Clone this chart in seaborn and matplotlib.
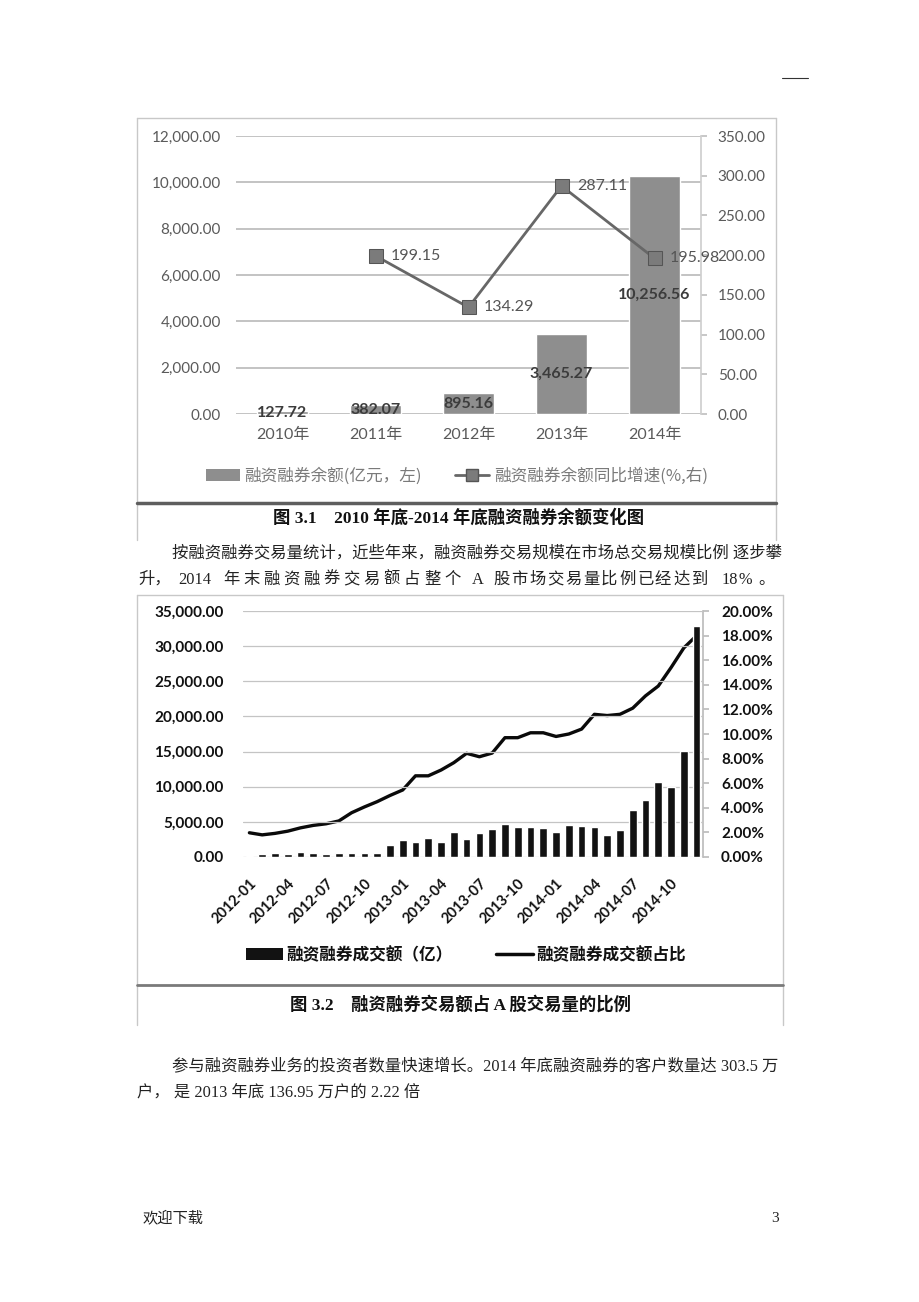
import numpy as np
import pandas as pd
import matplotlib
matplotlib.use("Agg")
import matplotlib.pyplot as plt
import seaborn as sns
from matplotlib.patches import Patch
from matplotlib.lines import Line2D
from matplotlib.ticker import FuncFormatter

# ---------------- data: chart 3.1 ----------------
years = ["2010年", "2011年", "2012年", "2013年", "2014年"]
balance = [127.72, 382.07, 895.16, 3465.27, 10256.56]
growth = [np.nan, 199.15, 134.29, 287.11, 195.98]
legend1 = ["融资融券余额(亿元，左)", "融资融券余额同比增速(%,右)"]
caption1 = "图 3.1    2010 年底-2014 年底融资融券余额变化图"

# ---------------- data: chart 3.2 ----------------
months = ["2012-01", "2012-02", "2012-03", "2012-04", "2012-05", "2012-06",
          "2012-07", "2012-08", "2012-09", "2012-10", "2012-11", "2012-12",
          "2013-01", "2013-02", "2013-03", "2013-04", "2013-05", "2013-06",
          "2013-07", "2013-08", "2013-09", "2013-10", "2013-11", "2013-12",
          "2014-01", "2014-02", "2014-03", "2014-04", "2014-05", "2014-06",
          "2014-07", "2014-08", "2014-09", "2014-10", "2014-11", "2014-12"]
volume = [200, 480, 500, 480, 680, 530, 480, 500, 640, 500, 500, 1650,
          2450, 2150, 2700, 2100, 3500, 2550, 3450, 3980, 4690, 4300, 4260, 4160,
          3550, 4590, 4400, 4210, 3080, 3830, 6630, 8090, 10650, 10030, 15050, 32900]
ratio = [1.97, 1.80, 1.92, 2.10, 2.37, 2.57, 2.70, 2.93, 3.60, 4.07, 4.50, 5.00,
         5.45, 6.60, 6.60, 7.07, 7.67, 8.43, 8.15, 8.45, 9.70, 9.70, 10.10, 10.10,
         9.80, 10.00, 10.40, 11.60, 11.50, 11.60, 12.10, 13.10, 13.90, 15.40, 17.00, 18.00]
month_ticks = ["2012-01", "2012-04", "2012-07", "2012-10", "2013-01", "2013-04",
               "2013-07", "2013-10", "2014-01", "2014-04", "2014-07", "2014-10"]
legend2 = ["融资融券成交额（亿）", "融资融券成交额占比"]
caption2 = "图 3.2    融资融券交易额占 A 股交易量的比例"

# ---------------- page text ----------------
para1_line1 = "按融资融券交易量统计，近些年来，融资融券交易规模在市场总交易规模比例 逐步攀"
para2_line1 = "参与融资融券业务的投资者数量快速增长。2014 年底融资融券的客户数量达 303.5 万"
para2_line2 = "户， 是 2013 年底 136.95 万户的 2.22 倍"
footer_left = "欢迎下载"
footer_right = "3"

sns.set_theme(style="white")
plt.rcParams["font.family"] = ["Lato", "Noto Sans CJK SC", "DejaVu Sans"]
plt.rcParams["axes.unicode_minus"] = False

W, H = 920, 1302
fig = plt.figure(figsize=(W / 100, H / 100), dpi=100)
fig.patch.set_facecolor("white")


def fx(x):
    return x / W


def fy(y):
    return 1 - y / H


def rect(x0, y0, x1, y1):
    return [fx(x0), fy(y1), (x1 - x0) / W, (y1 - y0) / H]


def hline(x0, x1, y, **kw):
    fig.add_artist(Line2D([fx(x0), fx(x1)], [fy(y), fy(y)], transform=fig.transFigure, **kw))


def vline(x, y0, y1, **kw):
    fig.add_artist(Line2D([fx(x), fx(x)], [fy(y0), fy(y1)], transform=fig.transFigure, **kw))


SERIF = ["Liberation Serif", "Noto Sans CJK SC"]
CJK = ["Noto Sans CJK SC", "DejaVu Sans"]

# ================= chart 3.1 =================
df1 = pd.DataFrame({"year": years, "balance": balance})
ax1 = fig.add_axes(rect(236, 136, 701, 414))
sns.barplot(data=df1, x="year", y="balance", ax=ax1, color="#8e8e8e",
            width=0.55, saturation=1)
ax1.set_xlim(-0.5, len(years) - 0.5)
ax1.set_ylim(0, 12000)
ax1.set_yticks(np.arange(0, 12001, 2000))
ax1.yaxis.set_major_formatter(FuncFormatter(lambda v, p: f"{v:,.2f}"))
ax1.grid(axis="y", color="#c3c3c3", lw=1.4)
ax1.set_axisbelow(True)
for s in ax1.spines.values():
    s.set_visible(False)
ax1.tick_params(axis="y", length=0, pad=11, labelsize=11, labelcolor="#5a5a5a")
ax1.tick_params(axis="x", length=0, pad=10, labelsize=11.5, labelcolor="#5a5a5a")
ax1.set_xlabel("")
ax1.set_ylabel("")
for i, v in enumerate(balance):
    ax1.text(i, v / 2, f"{v:,.2f}", ha="center", va="center", fontsize=11.5,
             fontweight="bold", color="#3c3c3c", zorder=5)

ax2 = fig.add_axes(rect(236, 136, 701, 414), facecolor="none")
pos1 = np.arange(len(years))
sns.lineplot(x=pos1, y=growth, ax=ax2, color="#676767", lw=2, marker="s",
             markersize=10, markerfacecolor="#7b7b7b", markeredgecolor="#555555",
             errorbar=None)
ax2.set_xlim(-0.5, len(years) - 0.5)
ax2.set_ylim(0, 350)
ax2.yaxis.tick_right()
ax2.set_yticks(np.arange(0, 351, 50))
ax2.yaxis.set_major_formatter(FuncFormatter(lambda v, p: f"{v:.2f}"))
ax2.xaxis.set_visible(False)
for k, s in ax2.spines.items():
    s.set_visible(k == "right")
ax2.spines["right"].set_color("#cfcfcf")
ax2.tick_params(axis="y", length=4, color="#c0c0c0", pad=8, labelsize=11,
                labelcolor="#5a5a5a")
ax2.set_ylabel("")
for i, g in enumerate(growth):
    if not np.isnan(g):
        ax2.annotate(f"{g:.2f}", (i, g), xytext=(11, 0), textcoords="offset points",
                     va="center", ha="left", fontsize=11.5, color="#555555")

fig.legend(handles=[Patch(facecolor="#8e8e8e", edgecolor="none"),
                    Line2D([], [], color="#676767", lw=2, marker="s", markersize=9,
                           markerfacecolor="#7b7b7b", markeredgecolor="#555555")],
           labels=legend1, loc="center", bbox_to_anchor=(fx(457), fy(476)), ncol=2,
           frameon=False, prop={"family": CJK, "size": 12}, labelcolor="#7a7a7a",
           handlelength=2.0, handleheight=0.8, handletextpad=0.3, columnspacing=2.0)

# frame of figure 3.1
hline(137, 776, 118, color="#c8c8c8", lw=1)
vline(137, 118, 540, color="#c8c8c8", lw=1)
vline(776, 118, 540, color="#c8c8c8", lw=1)
hline(137, 776, 503, color="#5e5e5e", lw=2.5)
fig.text(fx(459), fy(518), caption1, ha="center", va="center", fontsize=12.5,
         fontweight="bold", family=SERIF, color="#111111")

# ================= chart 3.2 =================
df2 = pd.DataFrame({"month": months, "volume": volume})
ax3 = fig.add_axes(rect(243, 611, 703, 857))
sns.barplot(data=df2, x="month", y="volume", ax=ax3, color="#121212",
            width=0.6, saturation=1)
ax3.set_xlim(-0.5, len(months) - 0.5)
ax3.set_ylim(0, 35000)
ax3.set_yticks(np.arange(0, 35001, 5000))
ax3.yaxis.set_major_formatter(FuncFormatter(lambda v, p: f"{v:,.2f}"))
ax3.grid(axis="y", color="#c4c4c4", lw=0.9)
ax3.set_axisbelow(True)
for s in ax3.spines.values():
    s.set_visible(False)
tick_pos = [months.index(m) for m in month_ticks]
ax3.set_xticks(tick_pos)
ax3.set_xticklabels(month_ticks, rotation=45, ha="right", rotation_mode="anchor",
                    fontweight="bold", fontsize=10.5, color="#111111")
ax3.tick_params(axis="x", length=0, pad=14)
ax3.tick_params(axis="y", length=0, pad=14, labelsize=11, labelcolor="#111111")
for lab in ax3.get_yticklabels():
    lab.set_fontweight("bold")
ax3.set_xlabel("")
ax3.set_ylabel("")

ax4 = fig.add_axes(rect(243, 611, 703, 857), facecolor="none")
sns.lineplot(x=np.arange(len(months)), y=ratio, ax=ax4, color="#0a0a0a", lw=2.4,
             errorbar=None)
ax4.set_xlim(-0.5, len(months) - 0.5)
ax4.set_ylim(0, 20)
ax4.yaxis.tick_right()
ax4.set_yticks(np.arange(0, 20.01, 2))
ax4.yaxis.set_major_formatter(FuncFormatter(lambda v, p: f"{v:.2f}%"))
ax4.xaxis.set_visible(False)
for k, s in ax4.spines.items():
    s.set_visible(k == "right")
ax4.spines["right"].set_color("#bdbdbd")
ax4.tick_params(axis="y", length=4, color="#bdbdbd", pad=9, labelsize=11,
                labelcolor="#111111")
for lab in ax4.get_yticklabels():
    lab.set_fontweight("bold")
ax4.set_ylabel("")
ax3.set_zorder(ax4.get_zorder() + 1)
ax3.patch.set_visible(False)

fig.legend(handles=[Patch(facecolor="#121212", edgecolor="none"),
                    Line2D([], [], color="#0a0a0a", lw=2.5)],
           labels=legend2, loc="center", bbox_to_anchor=(fx(466), fy(955)), ncol=2,
           frameon=False, prop={"family": CJK, "size": 12, "weight": "bold"},
           labelcolor="#111111", handlelength=2.2, handleheight=0.7,
           handletextpad=0.2, columnspacing=2.6)

hline(137, 783, 595, color="#c8c8c8", lw=1)
vline(137, 595, 1025, color="#c8c8c8", lw=1)
vline(783, 595, 1025, color="#c8c8c8", lw=1)
hline(137, 783, 985, color="#7a7a7a", lw=2)
fig.text(fx(461), fy(1005), caption2, ha="center", va="center", fontsize=12.5,
         fontweight="bold", family=SERIF, color="#111111")

# ================= page text =================
BODY = dict(fontsize=11.75, family=SERIF, color="#222222", va="center", ha="left")
fig.text(fx(172), fy(553), para1_line1, **BODY)


def spread(chars, x0, x1, y):
    n = len(chars)
    for i, c in enumerate(chars):
        x = x0 + (x1 - x0) * i / (n - 1) if n > 1 else x0
        fig.text(fx(x), fy(y), c, **BODY)


fig.text(fx(138), fy(580), "升，", **BODY)
fig.text(fx(178), fy(580), "2014", **BODY)
spread(list("年末融资融券交易额占整个"), 223, 444, 580)
fig.text(fx(472), fy(580), "A", **BODY)
spread(list("股市场交易量比例已经达到"), 493, 691, 580)
fig.text(fx(722), fy(580), "18", **BODY)
fig.text(fx(739), fy(580), "%", **BODY)
fig.text(fx(758), fy(580), "。", **BODY)

fig.text(fx(172), fy(1066), para2_line1, **BODY)
fig.text(fx(137), fy(1093), para2_line2, **BODY)

hline(782, 808, 78, color="#333333", lw=0.8)
fig.text(fx(143), fy(1218), footer_left, fontsize=11, family=SERIF, color="#222222",
         va="center", ha="left")
fig.text(fx(779), fy(1218), footer_right, fontsize=11, family=SERIF, color="#222222",
         va="center", ha="right")

fig.savefig("out.png", dpi=100, facecolor="white")
